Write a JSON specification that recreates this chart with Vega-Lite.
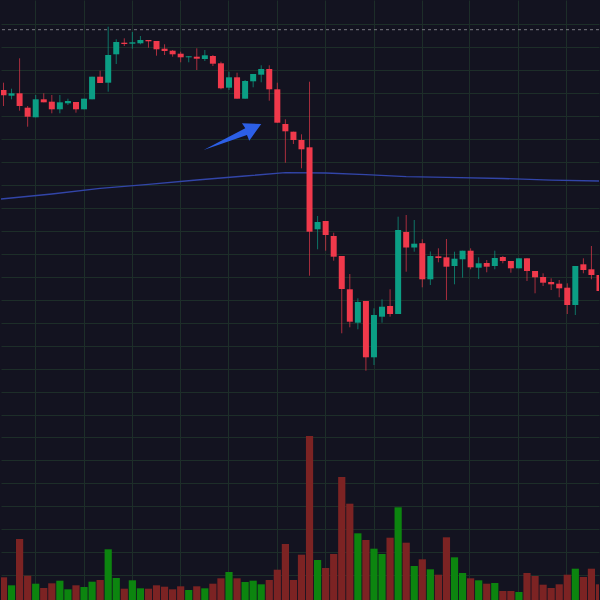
{
  "$schema": "https://vega.github.io/schema/vega-lite/v6.json",
  "width": 600,
  "height": 600,
  "autosize": {"type": "fit", "contains": "padding"},
  "padding": 0,
  "background": "#131320",
  "config": {
    "view": {"stroke": null},
    "axis": {"labels": false, "ticks": false, "domain": false, "title": null, "minExtent": 0, "maxExtent": 0, "gridColor": "#1d2e29", "gridWidth": 1, "gridOpacity": 1, "tickCount": 100}
  },
  "datasets": {
    "candles": [
      {"i": 0, "o": 510, "h": 517.3, "l": 494, "c": 504.7, "v": 22.7, "dir": "down"},
      {"i": 1, "o": 504.3, "h": 511.3, "l": 500.7, "c": 506.7, "v": 14.7, "dir": "up"},
      {"i": 2, "o": 506.7, "h": 541.7, "l": 489.3, "c": 494, "v": 61, "dir": "down"},
      {"i": 3, "o": 492.3, "h": 494, "l": 473.3, "c": 483.3, "v": 24.3, "dir": "down"},
      {"i": 4, "o": 482.7, "h": 505, "l": 482.7, "c": 500.7, "v": 16.3, "dir": "up"},
      {"i": 5, "o": 500.7, "h": 506.7, "l": 497.7, "c": 497.7, "v": 12, "dir": "down"},
      {"i": 6, "o": 498.3, "h": 505, "l": 486.7, "c": 490.7, "v": 16.7, "dir": "down"},
      {"i": 7, "o": 490.7, "h": 505, "l": 486.7, "c": 497.7, "v": 19.3, "dir": "up"},
      {"i": 8, "o": 496.7, "h": 501.3, "l": 495, "c": 499, "v": 10.7, "dir": "up"},
      {"i": 9, "o": 498, "h": 498, "l": 487.3, "c": 490.7, "v": 14.7, "dir": "down"},
      {"i": 10, "o": 490.7, "h": 501.3, "l": 490.7, "c": 501.3, "v": 13, "dir": "up"},
      {"i": 11, "o": 500.7, "h": 523.3, "l": 500.7, "c": 523.3, "v": 18.3, "dir": "up"},
      {"i": 12, "o": 523.3, "h": 529.3, "l": 517, "c": 517, "v": 20, "dir": "down"},
      {"i": 13, "o": 517.3, "h": 573.3, "l": 508.3, "c": 545, "v": 50.7, "dir": "up"},
      {"i": 14, "o": 545.7, "h": 560.7, "l": 536, "c": 558, "v": 22, "dir": "up"},
      {"i": 15, "o": 557.3, "h": 561.7, "l": 554, "c": 556, "v": 11.3, "dir": "down"},
      {"i": 16, "o": 556.3, "h": 568, "l": 551.3, "c": 557.7, "v": 19.7, "dir": "up"},
      {"i": 17, "o": 556.7, "h": 564, "l": 555.7, "c": 560, "v": 11.7, "dir": "up"},
      {"i": 18, "o": 560, "h": 560, "l": 552.3, "c": 558.7, "v": 11.3, "dir": "down"},
      {"i": 19, "o": 559, "h": 559, "l": 544.3, "c": 550.7, "v": 14.7, "dir": "down"},
      {"i": 20, "o": 551.3, "h": 555.7, "l": 545, "c": 549, "v": 13.3, "dir": "down"},
      {"i": 21, "o": 549.3, "h": 550, "l": 543.3, "c": 545.7, "v": 10.7, "dir": "down"},
      {"i": 22, "o": 546.3, "h": 548.3, "l": 537.7, "c": 542.7, "v": 13.7, "dir": "down"},
      {"i": 23, "o": 542.7, "h": 543.7, "l": 537.7, "c": 543.7, "v": 10, "dir": "up"},
      {"i": 24, "o": 543.3, "h": 551.7, "l": 530, "c": 541.3, "v": 13.7, "dir": "down"},
      {"i": 25, "o": 541, "h": 550, "l": 539, "c": 544.7, "v": 11.7, "dir": "up"},
      {"i": 26, "o": 544, "h": 545, "l": 534, "c": 536.3, "v": 16.3, "dir": "down"},
      {"i": 27, "o": 536.7, "h": 538.3, "l": 510.7, "c": 511.7, "v": 21.7, "dir": "down"},
      {"i": 28, "o": 512.3, "h": 528.3, "l": 510, "c": 522.7, "v": 28, "dir": "up"},
      {"i": 29, "o": 522.7, "h": 527.3, "l": 501.3, "c": 501.3, "v": 21.7, "dir": "down"},
      {"i": 30, "o": 501.3, "h": 520, "l": 501.3, "c": 519, "v": 18, "dir": "up"},
      {"i": 31, "o": 518.7, "h": 526, "l": 512.7, "c": 526, "v": 19.3, "dir": "up"},
      {"i": 32, "o": 525.3, "h": 534.7, "l": 517.7, "c": 531, "v": 15.7, "dir": "up"},
      {"i": 33, "o": 531, "h": 534.7, "l": 499.3, "c": 510.7, "v": 20, "dir": "down"},
      {"i": 34, "o": 510.7, "h": 517.3, "l": 477.3, "c": 477.3, "v": 30.3, "dir": "down"},
      {"i": 35, "o": 476, "h": 480.7, "l": 437.3, "c": 468.7, "v": 56, "dir": "down"},
      {"i": 36, "o": 468.3, "h": 468.3, "l": 456, "c": 460, "v": 20, "dir": "down"},
      {"i": 37, "o": 460, "h": 465.7, "l": 431.7, "c": 450.7, "v": 45.3, "dir": "down"},
      {"i": 38, "o": 452.7, "h": 518.3, "l": 324.3, "c": 368.3, "v": 164, "dir": "down"},
      {"i": 39, "o": 370.7, "h": 384, "l": 350.7, "c": 378, "v": 40, "dir": "up"},
      {"i": 40, "o": 379, "h": 379, "l": 349.3, "c": 365, "v": 32, "dir": "down"},
      {"i": 41, "o": 364, "h": 367.3, "l": 339.3, "c": 343.3, "v": 46, "dir": "down"},
      {"i": 42, "o": 344, "h": 344, "l": 266.7, "c": 311, "v": 123, "dir": "down"},
      {"i": 43, "o": 310.7, "h": 326, "l": 272.7, "c": 278.3, "v": 96.3, "dir": "down"},
      {"i": 44, "o": 277.3, "h": 301.7, "l": 270.7, "c": 298, "v": 66.7, "dir": "up"},
      {"i": 45, "o": 299, "h": 299, "l": 229.3, "c": 242.7, "v": 60, "dir": "down"},
      {"i": 46, "o": 242.7, "h": 291.7, "l": 235, "c": 285, "v": 51.3, "dir": "up"},
      {"i": 47, "o": 283.3, "h": 300.7, "l": 277.3, "c": 293.3, "v": 46, "dir": "up"},
      {"i": 48, "o": 294, "h": 310.7, "l": 283.3, "c": 286, "v": 62.3, "dir": "down"},
      {"i": 49, "o": 286, "h": 383.3, "l": 286, "c": 370, "v": 92.7, "dir": "up"},
      {"i": 50, "o": 368, "h": 385, "l": 328.3, "c": 352.5, "v": 57.3, "dir": "down"},
      {"i": 51, "o": 352.5, "h": 380, "l": 348.3, "c": 356.3, "v": 34, "dir": "up"},
      {"i": 52, "o": 356.8, "h": 360.7, "l": 312.7, "c": 320.7, "v": 40.7, "dir": "down"},
      {"i": 53, "o": 320.7, "h": 348.5, "l": 315, "c": 344, "v": 30.7, "dir": "up"},
      {"i": 54, "o": 343.7, "h": 351.7, "l": 337.7, "c": 342, "v": 25.3, "dir": "down"},
      {"i": 55, "o": 342.7, "h": 361, "l": 300, "c": 333.3, "v": 62.7, "dir": "down"},
      {"i": 56, "o": 334, "h": 348.3, "l": 315.7, "c": 341.3, "v": 42.7, "dir": "up"},
      {"i": 57, "o": 340.7, "h": 349.3, "l": 322.3, "c": 349.3, "v": 27, "dir": "up"},
      {"i": 58, "o": 349.3, "h": 351.7, "l": 330.7, "c": 332.7, "v": 21.7, "dir": "down"},
      {"i": 59, "o": 332.3, "h": 342.7, "l": 321, "c": 336.7, "v": 19.7, "dir": "up"},
      {"i": 60, "o": 337, "h": 340, "l": 327.7, "c": 333.3, "v": 16.3, "dir": "down"},
      {"i": 61, "o": 334, "h": 349.3, "l": 330.7, "c": 342, "v": 17, "dir": "up"},
      {"i": 62, "o": 343, "h": 344, "l": 336.7, "c": 339, "v": 9, "dir": "down"},
      {"i": 63, "o": 339, "h": 339, "l": 327.3, "c": 331.7, "v": 9, "dir": "down"},
      {"i": 64, "o": 331.7, "h": 341.7, "l": 331.7, "c": 341.7, "v": 8, "dir": "up"},
      {"i": 65, "o": 341.7, "h": 341.7, "l": 319, "c": 329, "v": 27, "dir": "down"},
      {"i": 66, "o": 329, "h": 329, "l": 306.7, "c": 322.7, "v": 24, "dir": "down"},
      {"i": 67, "o": 323, "h": 326.7, "l": 314, "c": 317.3, "v": 15.3, "dir": "down"},
      {"i": 68, "o": 318, "h": 321.7, "l": 310, "c": 315.7, "v": 12, "dir": "down"},
      {"i": 69, "o": 316.3, "h": 320, "l": 302.7, "c": 311.7, "v": 15.7, "dir": "down"},
      {"i": 70, "o": 312.3, "h": 316.7, "l": 286, "c": 295, "v": 25.3, "dir": "down"},
      {"i": 71, "o": 295, "h": 334, "l": 285, "c": 334, "v": 31.3, "dir": "up"},
      {"i": 72, "o": 335.7, "h": 341.7, "l": 326.7, "c": 330, "v": 23, "dir": "down"},
      {"i": 73, "o": 330.7, "h": 354, "l": 320.7, "c": 325, "v": 31.3, "dir": "down"},
      {"i": 74, "o": 325, "h": 325, "l": 305, "c": 309, "v": 15.7, "dir": "down"}
    ],
    "ma": [
      {"i": -0.31, "m": 401},
      {"i": 6, "m": 406},
      {"i": 12, "m": 411.7},
      {"i": 18, "m": 415.7},
      {"i": 24, "m": 420},
      {"i": 30, "m": 424},
      {"i": 35, "m": 427.3},
      {"i": 40, "m": 427},
      {"i": 45, "m": 425.3},
      {"i": 50, "m": 423.3},
      {"i": 55, "m": 422.7},
      {"i": 62, "m": 421.5},
      {"i": 68, "m": 419.8},
      {"i": 73.94, "m": 419}
    ],
    "arrow": [{"i": 28.43, "p": 463}],
    "level": [{"p": 570.3}]
  },
  "layer": [
    {
      "data": {"name": "candles"},
      "mark": {"type": "bar", "size": 7.2, "clip": true},
      "encoding": {
        "x": {"field": "i", "type": "quantitative", "scale": {"domain": [-0.309, 73.94], "nice": false, "zero": false, "padding": 0},
              "axis": {"grid": true, "tickCount": 100, "values": [3.899, 9.963, 15.904, 21.968, 27.908, 33.973, 39.913, 45.978, 51.918, 57.859, 63.923, 69.864]}},
        "y": {"field": "v", "type": "quantitative", "scale": {"domain": [0, 600], "nice": false, "zero": false, "padding": 0},
              "axis": {"grid": true, "tickCount": 100, "values": [576, 553, 530, 507, 484, 461, 438, 415, 392, 369, 346, 323, 300, 277, 254, 231, 208, 185, 163, 140, 117, 94, 71, 48, 25]}},
        "color": {"condition": {"test": "datum.dir === 'up'", "value": "#0c850f"}, "value": "#7c2323"}
      }
    },
    {
      "data": {"name": "ma"},
      "mark": {"type": "line", "color": "#3245a8", "strokeWidth": 1.3, "clip": true},
      "encoding": {
        "x": {"field": "i", "type": "quantitative"},
        "y": {"field": "m", "type": "quantitative"}
      }
    },
    {
      "data": {"name": "candles"},
      "mark": {"type": "rule", "strokeWidth": 1, "opacity": 0.7, "clip": true},
      "encoding": {
        "x": {"field": "i", "type": "quantitative"},
        "y": {"field": "l", "type": "quantitative"},
        "y2": {"field": "h"},
        "color": {"condition": {"test": "datum.dir === 'up'", "value": "#0b9e84"}, "value": "#e8394a"}
      }
    },
    {
      "data": {"name": "candles"},
      "mark": {"type": "bar", "size": 6, "clip": true},
      "encoding": {
        "x": {"field": "i", "type": "quantitative"},
        "y": {"field": "o", "type": "quantitative"},
        "y2": {"field": "c"},
        "color": {"condition": {"test": "datum.dir === 'up'", "value": "#0b9e84"}, "value": "#f0394b"}
      }
    },
    {
      "data": {"name": "level"},
      "mark": {"type": "rule", "color": "#7a7a82", "strokeDash": [3, 3], "strokeWidth": 1},
      "encoding": {"y": {"field": "p", "type": "quantitative"}}
    },
    {
      "data": {"name": "arrow"},
      "mark": {"type": "point", "filled": true, "opacity": 1, "color": "#2c5fe6", "size": 3600,
               "shape": "M -0.963 0.433 L 0.427 -0.29 L 0.317 -0.457 L 0.96 -0.433 L 0.56 0.123 L 0.483 -0.067 Z"},
      "encoding": {
        "x": {"field": "i", "type": "quantitative"},
        "y": {"field": "p", "type": "quantitative"}
      }
    }
  ]
}
